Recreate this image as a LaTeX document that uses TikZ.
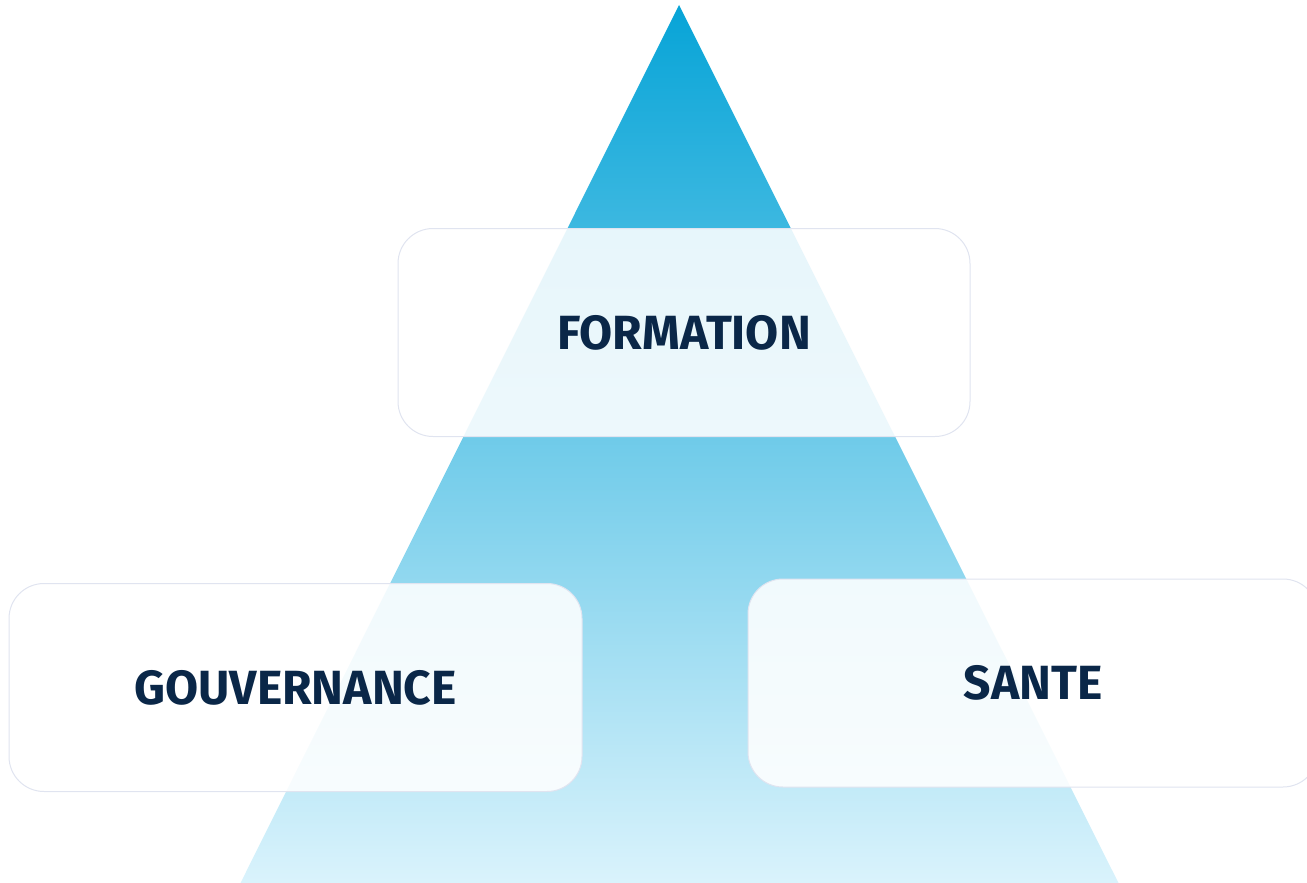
\documentclass[tikz,border=0pt]{standalone}
\usepackage{fontspec}
\newfontfamily\lblfont{Fira Sans}
\definecolor{topblue}{HTML}{07A4D7}
\definecolor{botblue}{HTML}{DAF3FC}
\definecolor{boxline}{HTML}{E0E4F0}
\definecolor{navy}{HTML}{0A2748}
\tikzset{
  card/.style={draw=boxline, line width=1pt, fill=white, fill opacity=0.88, text opacity=1,
    rounded corners=35pt, minimum height=208pt, inner sep=0pt,
    font=\lblfont\bfseries\fontsize{48}{48}\selectfont, text=navy},
}
\begin{document}
\begin{tikzpicture}[x=1pt,y=-1pt]
\useasboundingbox (0,0) rectangle (1307,883);
\clip (0,0) rectangle (1307,883);
\shade[top color=topblue, bottom color=botblue] (679,5) -- (1119,884) -- (240,884) -- cycle;
\node[card, minimum width=572pt] (formation) at (684,332.5) {FORMATION};
\node[card, minimum width=573pt] (gouv) at (295.5,687.5) {GOUVERNANCE};
\node[card, minimum width=570pt] (sante) at (1033,683) {SANTE};
\end{tikzpicture}
\end{document}
